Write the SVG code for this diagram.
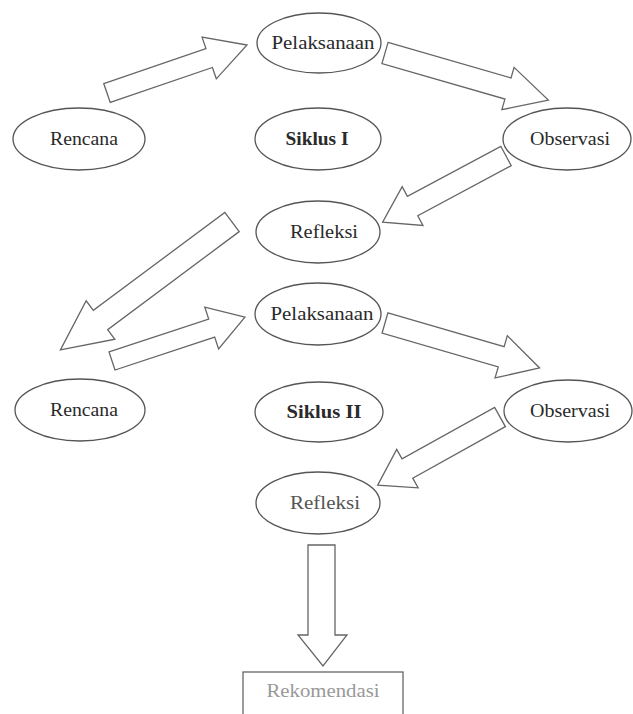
<svg xmlns="http://www.w3.org/2000/svg" width="633" height="714" viewBox="0 0 633 714">
<style>
.node ellipse{fill:#fff;stroke:#555;stroke-width:1.3}
.lbl{font-family:"Liberation Serif","Times New Roman",serif;font-size:18px;fill:#2a2a2a;text-anchor:middle}
.b{font-weight:bold}
.arr polygon{fill:#fff;stroke:#666;stroke-width:1.3;stroke-linejoin:miter}
</style>
<rect width="633" height="714" fill="#fff"/>
<g id="connectors" class="arr">
<polygon transform="translate(107,93) rotate(-18.9)" points="0,-10 108,-10 108,-22 148,0 108,22 108,10 0,10"/>
<polygon transform="translate(385,53) rotate(16.1)" points="0,-11 128,-11 128,-22 170,0 128,22 128,11 0,11"/>
<polygon transform="translate(506,156) rotate(151.8)" points="0,-11 106,-11 106,-22 140,0 106,22 106,11 0,11"/>
<polygon transform="translate(232,222) rotate(143.3)" points="0,-12 164,-12 164,-24 214,0 164,24 164,12 0,12"/>
<polygon transform="translate(112,361) rotate(-18.3)" points="0,-9.5 105,-9.5 105,-22 140,0 105,22 105,9.5 0,9.5"/>
<polygon transform="translate(385,323) rotate(16.2)" points="0,-10.5 121,-10.5 121,-22 161,0 121,22 121,10.5 0,10.5"/>
<polygon transform="translate(500,417) rotate(150.9)" points="0,-11 106,-11 106,-22 140,0 106,22 106,11 0,11"/>
<polygon points="308,545 335,545 335,635 347,635 323,666 298,635 308,635"/>
</g>
<g id="pelaksanaan1" class="node"><ellipse cx="319" cy="43" rx="62" ry="30"/><text class="lbl" x="323" y="49" textLength="103" lengthAdjust="spacingAndGlyphs">Pelaksanaan</text></g>
<g id="rencana1" class="node"><ellipse cx="79" cy="139" rx="66" ry="31"/><text class="lbl" x="84" y="145" textLength="68" lengthAdjust="spacingAndGlyphs">Rencana</text></g>
<g id="siklus1" class="node"><ellipse cx="318" cy="139" rx="63" ry="31"/><text class="lbl b" x="317" y="145" textLength="63" lengthAdjust="spacingAndGlyphs">Siklus I</text></g>
<g id="observasi1" class="node"><ellipse cx="567" cy="139" rx="64" ry="31"/><text class="lbl" x="570" y="145" textLength="80" lengthAdjust="spacingAndGlyphs">Observasi</text></g>
<g id="refleksi1" class="node"><ellipse cx="318" cy="232" rx="62" ry="31"/><text class="lbl" x="324" y="238" textLength="68" lengthAdjust="spacingAndGlyphs">Refleksi</text></g>
<g id="pelaksanaan2" class="node"><ellipse cx="318" cy="314" rx="63" ry="31"/><text class="lbl" x="322" y="320" textLength="103" lengthAdjust="spacingAndGlyphs">Pelaksanaan</text></g>
<g id="rencana2" class="node"><ellipse cx="80" cy="410" rx="65" ry="31"/><text class="lbl" x="84" y="416" textLength="68" lengthAdjust="spacingAndGlyphs">Rencana</text></g>
<g id="siklus2" class="node"><ellipse cx="319" cy="412" rx="64" ry="30"/><text class="lbl b" x="324" y="418" textLength="75" lengthAdjust="spacingAndGlyphs">Siklus II</text></g>
<g id="observasi2" class="node"><ellipse cx="568" cy="411" rx="64" ry="31"/><text class="lbl" x="570" y="417" textLength="80" lengthAdjust="spacingAndGlyphs">Observasi</text></g>
<g id="refleksi2" class="node"><ellipse cx="318" cy="503" rx="62" ry="31"/><text class="lbl" x="325" y="509" textLength="70" lengthAdjust="spacingAndGlyphs" style="fill:#555">Refleksi</text></g>
<g id="rekomendasi" class="node"><rect x="243" y="672" width="160" height="60" fill="#fff" stroke="#666" stroke-width="1.3"/><text class="lbl" x="323" y="697" textLength="113" lengthAdjust="spacingAndGlyphs" style="fill:#999">Rekomendasi</text></g>
</svg>
